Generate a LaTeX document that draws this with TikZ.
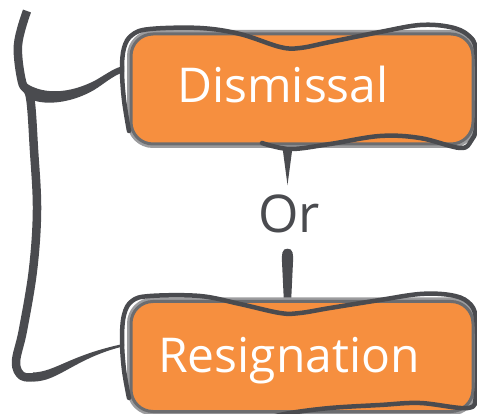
\documentclass[tikz,border=0pt]{standalone}
\usepackage{fontspec}
\setmainfont{Open Sans}
\usetikzlibrary{calc}
\definecolor{boxorange}{HTML}{F68F3F}
\definecolor{ink}{HTML}{4A4B4F}
\definecolor{rimdark}{HTML}{6B6C6F}
\definecolor{rimlight}{HTML}{9C9C9E}
\begin{document}
\begin{tikzpicture}[x=1pt,y=-1pt,
  box/.style={rectangle, rounded corners=22pt, fill=boxorange, draw=rimdark,
    line width=3pt, preaction={draw=rimlight, line width=8pt},
    minimum width=342pt, minimum height=110pt, inner sep=0pt},
  boxtext/.style={text=white, font=\fontsize{48}{48}\selectfont, anchor=base, inner sep=0pt},
  sketch/.style={draw=ink, line width=4.5pt, line cap=round, line join=round},
  trunk/.style={draw=ink, line width=8.5pt, line join=round}]
\useasboundingbox (0,0) rectangle (477,414);
\clip (0,0) rectangle (477,414);

% text between the two choices
\node[anchor=base, text=ink, inner sep=0pt, font=\fontsize{52}{52}\selectfont] (or) at (289,233) {Or};

% attachment points of the bracket on the two boxes
\coordinate (dport) at (124,69);
\coordinate (rport) at (124,345);

% bracket trunk
\draw[trunk] plot[smooth, tension=0.6] coordinates
  {(27,11) (18,45) (22,82) (30,97) (34,150) (37,210) (33,270) (23,330) (16,362) (22,376) (35,377)};
% branch to the upper box, tapering
\fill[ink] (22,80) .. controls (40,96) and (70,94) .. (96,80)
  .. controls (108,73) and (116,67) .. ($(dport)+(0,-3)$)
  -- ($(dport)+(0,3)$) .. controls (112,76) and (104,84) .. (94,90)
  .. controls (70,104) and (42,106) .. (28,98) -- cycle;
% branch to the lower box, tapering
\fill[ink] (33,372.5) .. controls (55,372) and (70,355) .. ($(rport)+(0,-1.2)$)
  -- ($(rport)+(0,1.2)$) .. controls (75,358) and (58,382) .. (33,381.5) -- cycle;

% spike from the upper box down to the word
\fill[ink] (281.5,140) -- (293.5,140) -- ($(or.north)+(-1.5,-10)$) -- cycle;
% drop from the word down to the lower box
\fill[ink] ($(or.south)+(-1.5,15)$) .. controls (293,248) and (293.5,255) .. (293,262)
  -- (291,304) -- (284,304) -- (282,262)
  .. controls (281.5,255) and (282,248) .. ($(or.south)+(-1.5,15)$) -- cycle;

% the two boxes
\node[box] (dis) at (302,89) {};
\node[box] (res) at (302,356.5) {};

% hand-drawn outlines over the boxes
\draw[sketch] plot[smooth, tension=0.6] coordinates
  {(129,131) (124,100) (122,70) (124,48) (132,35) (150,29) (200,28) (240,34) (280,47)
   (300,48) (330,42) (380,32) (420,25) (450,27) (468,35) (476,50) (477,95) (476,128)
   (471,141) (460,148) (420,138) (380,136) (330,144) (290,149) (262,143)};
\draw[sketch] plot[smooth, tension=0.6] coordinates
  {(129,398) (124,370) (122,340) (124,315) (132,301) (150,296) (200,296) (240,304) (280,313)
   (300,313) (330,308) (380,300) (420,294) (450,295) (468,302) (476,318) (477,360)
   (476,395) (468,408) (420,403) (380,405) (330,408) (290,413) (268,418)};

% box labels
\node[boxtext] (distext) at (283,103) {Dismissal};
\node[boxtext] (restext) at (289,372) {Resignation};
\end{tikzpicture}
\end{document}
